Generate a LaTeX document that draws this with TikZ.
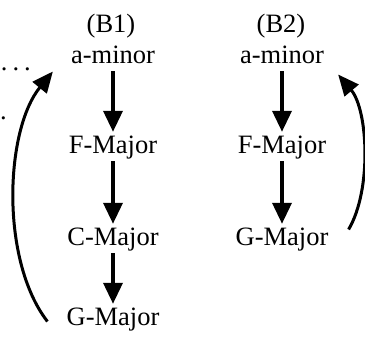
\documentclass[tikz,border=0pt]{standalone}
\usepackage{fontspec}
\setmainfont{Liberation Serif}
\usetikzlibrary{arrows.meta}
\begin{document}
\begin{tikzpicture}[x=1pt,y=-1pt,
    key/.style={anchor=base,font=\fontsize{26.5}{31}\selectfont,text height=18pt,text depth=5pt,inner xsep=2pt,inner ysep=3pt},
    down/.style={line width=3.6pt,-{Triangle[width=19pt,length=21pt]}},
    back/.style={line width=3pt,-{Triangle[width=18pt,length=21pt]}}]
      \useasboundingbox (0,0) rectangle (365,341);
      \node[key,text height=0pt,text depth=0pt,inner sep=0pt,anchor=base east](dotsA) at(31,70) {.\kern5pt.\kern5pt.};
      \node[key,text height=0pt,text depth=0pt,inner sep=0pt,anchor=base east](dotsB) at(7,119) {.};
      \node[key](B1) at(111,32) {(B1)};
      \node[key](B2) at(281,32) {(B2)};
      \foreach \n/\y/\t in {A1/63/a-minor, F1/153/F-Major, C1/245/C-Major, G1/325/G-Major}{
        \node[key](\n) at(113,\y) {\t};
      }
      \foreach \n/\y/\t in {A2/63/a-minor, F2/153/F-Major, G2/245/G-Major}{
        \node[key](\n) at(282,\y) {\t};
      }
      \foreach \a/\b in {A1/F1,F1/C1,C1/G1,A2/F2,F2/G2}{
        \draw[down](\a)--(\b);
      }
      \draw[back]([shift={(-17,3)}]G1.west) .. controls (0,260) and (5,130) .. ([shift={(-16,15)}]A1.west);
      \draw[back]([shift={(18,-9)}]G2.east) .. controls (372,190) and (368,110) .. ([shift={(12,18)}]A2.east);
    \end{tikzpicture}
\end{document}
